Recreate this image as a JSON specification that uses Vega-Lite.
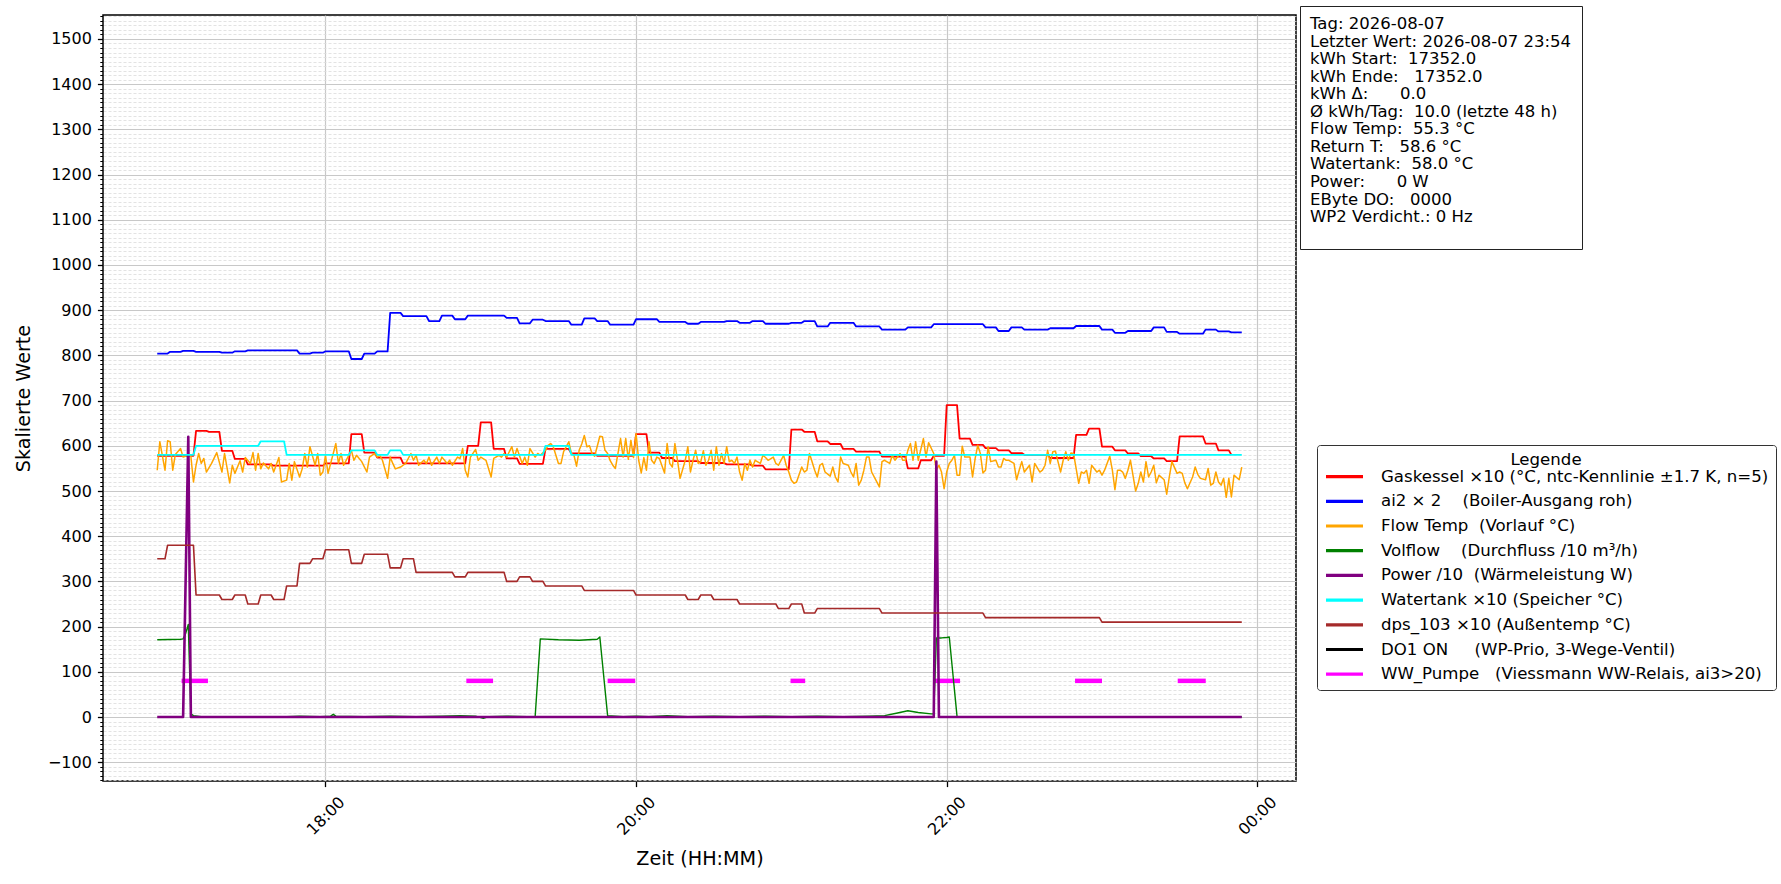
{
"$schema":"https://vega.github.io/schema/vega-lite/v6.json",
"autosize":{"type":"none"},
"padding":{"left":103,"top":15,"right":485,"bottom":103},
"width":1193,"height":766,
"background":"white",
"config":{"font":"DejaVu Sans","view":{"stroke":"black","strokeWidth":1.5},"axis":{"labelFont":"DejaVu Sans","titleFont":"DejaVu Sans","labelColor":"black","titleColor":"black","tickColor":"black"}},
"datasets":{
"gas":[
{"t":"2026-08-07T16:55","v":578},{"t":"2026-08-07T17:09","v":578},{"t":"2026-08-07T17:10","v":633},{"t":"2026-08-07T17:14","v":633},{"t":"2026-08-07T17:15","v":631},{"t":"2026-08-07T17:19","v":631},{"t":"2026-08-07T17:20","v":589},{"t":"2026-08-07T17:24","v":589},{"t":"2026-08-07T17:25","v":571},{"t":"2026-08-07T17:29","v":571},{"t":"2026-08-07T17:30","v":559},{"t":"2026-08-07T17:39","v":559},{"t":"2026-08-07T17:40","v":556},{"t":"2026-08-07T17:59","v":556},{"t":"2026-08-07T18:00","v":561},{"t":"2026-08-07T18:09","v":561},{"t":"2026-08-07T18:10","v":626},{"t":"2026-08-07T18:14","v":626},{"t":"2026-08-07T18:15","v":585},{"t":"2026-08-07T18:19","v":585},{"t":"2026-08-07T18:20","v":574},{"t":"2026-08-07T18:29","v":574},{"t":"2026-08-07T18:30","v":561},{"t":"2026-08-07T18:54","v":561},{"t":"2026-08-07T18:55","v":600},{"t":"2026-08-07T18:59","v":600},{"t":"2026-08-07T19:00","v":652},{"t":"2026-08-07T19:04","v":652},{"t":"2026-08-07T19:05","v":593},{"t":"2026-08-07T19:09","v":593},{"t":"2026-08-07T19:10","v":572},{"t":"2026-08-07T19:14","v":572},{"t":"2026-08-07T19:15","v":560},{"t":"2026-08-07T19:24","v":560},{"t":"2026-08-07T19:25","v":593},{"t":"2026-08-07T19:34","v":593},{"t":"2026-08-07T19:35","v":583},{"t":"2026-08-07T19:44","v":583},{"t":"2026-08-07T19:45","v":578},{"t":"2026-08-07T19:59","v":578},{"t":"2026-08-07T20:00","v":626},{"t":"2026-08-07T20:04","v":626},{"t":"2026-08-07T20:05","v":585},{"t":"2026-08-07T20:09","v":585},{"t":"2026-08-07T20:10","v":573},{"t":"2026-08-07T20:14","v":573},{"t":"2026-08-07T20:15","v":566},{"t":"2026-08-07T20:24","v":566},{"t":"2026-08-07T20:25","v":562},{"t":"2026-08-07T20:34","v":562},{"t":"2026-08-07T20:35","v":559},{"t":"2026-08-07T20:44","v":559},{"t":"2026-08-07T20:45","v":556},{"t":"2026-08-07T20:49","v":556},{"t":"2026-08-07T20:50","v":548},{"t":"2026-08-07T20:59","v":548},{"t":"2026-08-07T21:00","v":636},{"t":"2026-08-07T21:04","v":636},{"t":"2026-08-07T21:05","v":631},{"t":"2026-08-07T21:09","v":631},{"t":"2026-08-07T21:10","v":610},{"t":"2026-08-07T21:14","v":610},{"t":"2026-08-07T21:15","v":604},{"t":"2026-08-07T21:19","v":604},{"t":"2026-08-07T21:20","v":593},{"t":"2026-08-07T21:24","v":593},{"t":"2026-08-07T21:25","v":587},{"t":"2026-08-07T21:34","v":587},{"t":"2026-08-07T21:35","v":576},{"t":"2026-08-07T21:44","v":576},{"t":"2026-08-07T21:45","v":550},{"t":"2026-08-07T21:49","v":550},{"t":"2026-08-07T21:50","v":568},{"t":"2026-08-07T21:54","v":568},{"t":"2026-08-07T21:55","v":578},{"t":"2026-08-07T21:59","v":578},{"t":"2026-08-07T22:00","v":690},{"t":"2026-08-07T22:04","v":690},{"t":"2026-08-07T22:05","v":616},{"t":"2026-08-07T22:09","v":616},{"t":"2026-08-07T22:10","v":602},{"t":"2026-08-07T22:14","v":602},{"t":"2026-08-07T22:15","v":595},{"t":"2026-08-07T22:19","v":595},{"t":"2026-08-07T22:20","v":590},{"t":"2026-08-07T22:24","v":590},{"t":"2026-08-07T22:25","v":584},{"t":"2026-08-07T22:29","v":584},{"t":"2026-08-07T22:30","v":580},{"t":"2026-08-07T22:39","v":580},{"t":"2026-08-07T22:40","v":573},{"t":"2026-08-07T22:49","v":573},{"t":"2026-08-07T22:50","v":624},{"t":"2026-08-07T22:54","v":624},{"t":"2026-08-07T22:55","v":638},{"t":"2026-08-07T22:59","v":638},{"t":"2026-08-07T23:00","v":598},{"t":"2026-08-07T23:04","v":598},{"t":"2026-08-07T23:05","v":590},{"t":"2026-08-07T23:09","v":590},{"t":"2026-08-07T23:10","v":583},{"t":"2026-08-07T23:14","v":583},{"t":"2026-08-07T23:15","v":577},{"t":"2026-08-07T23:19","v":577},{"t":"2026-08-07T23:20","v":572},{"t":"2026-08-07T23:24","v":572},{"t":"2026-08-07T23:25","v":566},{"t":"2026-08-07T23:29","v":566},{"t":"2026-08-07T23:30","v":621},{"t":"2026-08-07T23:39","v":621},{"t":"2026-08-07T23:40","v":605},{"t":"2026-08-07T23:44","v":605},{"t":"2026-08-07T23:45","v":590},{"t":"2026-08-07T23:49","v":590},{"t":"2026-08-07T23:50","v":580}
],
"ai2":[
{"t":"2026-08-07T16:55","v":804},{"t":"2026-08-07T16:59","v":804},{"t":"2026-08-07T17:00","v":808},{"t":"2026-08-07T17:04","v":808},{"t":"2026-08-07T17:05","v":810},{"t":"2026-08-07T17:09","v":810},{"t":"2026-08-07T17:10","v":808},{"t":"2026-08-07T17:19","v":808},{"t":"2026-08-07T17:20","v":806},{"t":"2026-08-07T17:24","v":806},{"t":"2026-08-07T17:25","v":809},{"t":"2026-08-07T17:29","v":809},{"t":"2026-08-07T17:30","v":811},{"t":"2026-08-07T17:49","v":811},{"t":"2026-08-07T17:50","v":804},{"t":"2026-08-07T17:54","v":804},{"t":"2026-08-07T17:55","v":806},{"t":"2026-08-07T17:59","v":806},{"t":"2026-08-07T18:00","v":809},{"t":"2026-08-07T18:09","v":809},{"t":"2026-08-07T18:10","v":792},{"t":"2026-08-07T18:14","v":792},{"t":"2026-08-07T18:15","v":804},{"t":"2026-08-07T18:19","v":804},{"t":"2026-08-07T18:20","v":809},{"t":"2026-08-07T18:24","v":809},{"t":"2026-08-07T18:25","v":894},{"t":"2026-08-07T18:29","v":894},{"t":"2026-08-07T18:30","v":887},{"t":"2026-08-07T18:39","v":887},{"t":"2026-08-07T18:40","v":876},{"t":"2026-08-07T18:44","v":876},{"t":"2026-08-07T18:45","v":888},{"t":"2026-08-07T18:49","v":888},{"t":"2026-08-07T18:50","v":880},{"t":"2026-08-07T18:54","v":880},{"t":"2026-08-07T18:55","v":888},{"t":"2026-08-07T19:09","v":888},{"t":"2026-08-07T19:10","v":883},{"t":"2026-08-07T19:14","v":883},{"t":"2026-08-07T19:15","v":871},{"t":"2026-08-07T19:19","v":871},{"t":"2026-08-07T19:20","v":879},{"t":"2026-08-07T19:24","v":879},{"t":"2026-08-07T19:25","v":876},{"t":"2026-08-07T19:34","v":876},{"t":"2026-08-07T19:35","v":868},{"t":"2026-08-07T19:39","v":868},{"t":"2026-08-07T19:40","v":882},{"t":"2026-08-07T19:44","v":882},{"t":"2026-08-07T19:45","v":876},{"t":"2026-08-07T19:49","v":876},{"t":"2026-08-07T19:50","v":868},{"t":"2026-08-07T19:59","v":868},{"t":"2026-08-07T20:00","v":880},{"t":"2026-08-07T20:08","v":880},{"t":"2026-08-07T20:09","v":874},{"t":"2026-08-07T20:19","v":874},{"t":"2026-08-07T20:20","v":870},{"t":"2026-08-07T20:24","v":870},{"t":"2026-08-07T20:25","v":874},{"t":"2026-08-07T20:34","v":874},{"t":"2026-08-07T20:35","v":876},{"t":"2026-08-07T20:39","v":876},{"t":"2026-08-07T20:40","v":872},{"t":"2026-08-07T20:44","v":872},{"t":"2026-08-07T20:45","v":876},{"t":"2026-08-07T20:49","v":876},{"t":"2026-08-07T20:50","v":870},{"t":"2026-08-07T20:59","v":870},{"t":"2026-08-07T21:00","v":872},{"t":"2026-08-07T21:04","v":872},{"t":"2026-08-07T21:05","v":876},{"t":"2026-08-07T21:09","v":876},{"t":"2026-08-07T21:10","v":864},{"t":"2026-08-07T21:14","v":864},{"t":"2026-08-07T21:15","v":872},{"t":"2026-08-07T21:24","v":872},{"t":"2026-08-07T21:25","v":864},{"t":"2026-08-07T21:34","v":864},{"t":"2026-08-07T21:35","v":857},{"t":"2026-08-07T21:44","v":857},{"t":"2026-08-07T21:45","v":862},{"t":"2026-08-07T21:54","v":862},{"t":"2026-08-07T21:55","v":869},{"t":"2026-08-07T22:14","v":869},{"t":"2026-08-07T22:15","v":862},{"t":"2026-08-07T22:19","v":862},{"t":"2026-08-07T22:20","v":854},{"t":"2026-08-07T22:24","v":854},{"t":"2026-08-07T22:25","v":862},{"t":"2026-08-07T22:29","v":862},{"t":"2026-08-07T22:30","v":857},{"t":"2026-08-07T22:39","v":857},{"t":"2026-08-07T22:40","v":860},{"t":"2026-08-07T22:49","v":860},{"t":"2026-08-07T22:50","v":865},{"t":"2026-08-07T22:59","v":865},{"t":"2026-08-07T23:00","v":857},{"t":"2026-08-07T23:04","v":857},{"t":"2026-08-07T23:05","v":850},{"t":"2026-08-07T23:09","v":850},{"t":"2026-08-07T23:10","v":854},{"t":"2026-08-07T23:19","v":854},{"t":"2026-08-07T23:20","v":862},{"t":"2026-08-07T23:24","v":862},{"t":"2026-08-07T23:25","v":852},{"t":"2026-08-07T23:29","v":852},{"t":"2026-08-07T23:30","v":848},{"t":"2026-08-07T23:39","v":848},{"t":"2026-08-07T23:40","v":857},{"t":"2026-08-07T23:44","v":857},{"t":"2026-08-07T23:45","v":853},{"t":"2026-08-07T23:49","v":853},{"t":"2026-08-07T23:50","v":851},{"t":"2026-08-07T23:54","v":851}
],
"flow":[
{"t":"2026-08-07T16:55","v":546},{"t":"2026-08-07T16:56","v":609},{"t":"2026-08-07T16:58","v":546},{"t":"2026-08-07T16:59","v":611},{"t":"2026-08-07T17:00","v":609},{"t":"2026-08-07T17:01","v":546},{"t":"2026-08-07T17:02","v":581},{"t":"2026-08-07T17:04","v":594},{"t":"2026-08-07T17:05","v":575},{"t":"2026-08-07T17:07","v":579},{"t":"2026-08-07T17:08","v":577},{"t":"2026-08-07T17:09","v":520},{"t":"2026-08-07T17:10","v":557},{"t":"2026-08-07T17:11","v":583},{"t":"2026-08-07T17:12","v":561},{"t":"2026-08-07T17:13","v":572},{"t":"2026-08-07T17:14","v":542},{"t":"2026-08-07T17:16","v":561},{"t":"2026-08-07T17:18","v":585},{"t":"2026-08-07T17:20","v":542},{"t":"2026-08-07T17:21","v":583},{"t":"2026-08-07T17:23","v":518},{"t":"2026-08-07T17:24","v":557},{"t":"2026-08-07T17:25","v":539},{"t":"2026-08-07T17:27","v":567},{"t":"2026-08-07T17:28","v":542},{"t":"2026-08-07T17:29","v":574},{"t":"2026-08-07T17:31","v":561},{"t":"2026-08-07T17:32","v":585},{"t":"2026-08-07T17:33","v":546},{"t":"2026-08-07T17:34","v":583},{"t":"2026-08-07T17:35","v":549},{"t":"2026-08-07T17:36","v":562},{"t":"2026-08-07T17:38","v":549},{"t":"2026-08-07T17:39","v":561},{"t":"2026-08-07T17:40","v":542},{"t":"2026-08-07T17:42","v":574},{"t":"2026-08-07T17:43","v":520},{"t":"2026-08-07T17:45","v":524},{"t":"2026-08-07T17:46","v":561},{"t":"2026-08-07T17:47","v":524},{"t":"2026-08-07T17:48","v":565},{"t":"2026-08-07T17:50","v":531},{"t":"2026-08-07T17:51","v":549},{"t":"2026-08-07T17:52","v":583},{"t":"2026-08-07T17:53","v":553},{"t":"2026-08-07T17:54","v":598},{"t":"2026-08-07T17:56","v":557},{"t":"2026-08-07T17:57","v":583},{"t":"2026-08-07T17:58","v":535},{"t":"2026-08-07T17:59","v":542},{"t":"2026-08-07T18:00","v":579},{"t":"2026-08-07T18:01","v":539},{"t":"2026-08-07T18:03","v":583},{"t":"2026-08-07T18:04","v":605},{"t":"2026-08-07T18:05","v":561},{"t":"2026-08-07T18:06","v":583},{"t":"2026-08-07T18:07","v":557},{"t":"2026-08-07T18:09","v":579},{"t":"2026-08-07T18:10","v":590},{"t":"2026-08-07T18:11","v":568},{"t":"2026-08-07T18:12","v":579},{"t":"2026-08-07T18:14","v":565},{"t":"2026-08-07T18:16","v":542},{"t":"2026-08-07T18:17","v":575},{"t":"2026-08-07T18:19","v":583},{"t":"2026-08-07T18:20","v":575},{"t":"2026-08-07T18:21","v":579},{"t":"2026-08-07T18:22","v":568},{"t":"2026-08-07T18:24","v":528},{"t":"2026-08-07T18:25","v":575},{"t":"2026-08-07T18:26","v":561},{"t":"2026-08-07T18:27","v":549},{"t":"2026-08-07T18:29","v":553},{"t":"2026-08-07T18:30","v":557},{"t":"2026-08-07T18:31","v":561},{"t":"2026-08-07T18:33","v":583},{"t":"2026-08-07T18:34","v":568},{"t":"2026-08-07T18:35","v":579},{"t":"2026-08-07T18:36","v":557},{"t":"2026-08-07T18:38","v":568},{"t":"2026-08-07T18:39","v":561},{"t":"2026-08-07T18:40","v":575},{"t":"2026-08-07T18:41","v":557},{"t":"2026-08-07T18:43","v":575},{"t":"2026-08-07T18:44","v":561},{"t":"2026-08-07T18:45","v":575},{"t":"2026-08-07T18:47","v":561},{"t":"2026-08-07T18:48","v":568},{"t":"2026-08-07T18:49","v":557},{"t":"2026-08-07T18:51","v":575},{"t":"2026-08-07T18:52","v":572},{"t":"2026-08-07T18:53","v":594},{"t":"2026-08-07T18:54","v":546},{"t":"2026-08-07T18:55","v":531},{"t":"2026-08-07T18:56","v":575},{"t":"2026-08-07T18:58","v":592},{"t":"2026-08-07T18:59","v":568},{"t":"2026-08-07T19:00","v":575},{"t":"2026-08-07T19:02","v":568},{"t":"2026-08-07T19:04","v":531},{"t":"2026-08-07T19:05","v":572},{"t":"2026-08-07T19:07","v":579},{"t":"2026-08-07T19:08","v":575},{"t":"2026-08-07T19:09","v":583},{"t":"2026-08-07T19:10","v":575},{"t":"2026-08-07T19:12","v":598},{"t":"2026-08-07T19:13","v":575},{"t":"2026-08-07T19:14","v":594},{"t":"2026-08-07T19:16","v":561},{"t":"2026-08-07T19:17","v":575},{"t":"2026-08-07T19:18","v":557},{"t":"2026-08-07T19:19","v":594},{"t":"2026-08-07T19:21","v":575},{"t":"2026-08-07T19:22","v":583},{"t":"2026-08-07T19:23","v":579},{"t":"2026-08-07T19:25","v":590},{"t":"2026-08-07T19:26","v":601},{"t":"2026-08-07T19:27","v":605},{"t":"2026-08-07T19:28","v":598},{"t":"2026-08-07T19:30","v":561},{"t":"2026-08-07T19:31","v":561},{"t":"2026-08-07T19:32","v":587},{"t":"2026-08-07T19:34","v":609},{"t":"2026-08-07T19:35","v":583},{"t":"2026-08-07T19:36","v":579},{"t":"2026-08-07T19:37","v":555},{"t":"2026-08-07T19:38","v":590},{"t":"2026-08-07T19:39","v":604},{"t":"2026-08-07T19:40","v":623},{"t":"2026-08-07T19:41","v":598},{"t":"2026-08-07T19:42","v":600},{"t":"2026-08-07T19:43","v":583},{"t":"2026-08-07T19:44","v":577},{"t":"2026-08-07T19:46","v":621},{"t":"2026-08-07T19:47","v":620},{"t":"2026-08-07T19:48","v":590},{"t":"2026-08-07T19:49","v":583},{"t":"2026-08-07T19:50","v":567},{"t":"2026-08-07T19:51","v":557},{"t":"2026-08-07T19:52","v":550},{"t":"2026-08-07T19:53","v":583},{"t":"2026-08-07T19:54","v":616},{"t":"2026-08-07T19:55","v":575},{"t":"2026-08-07T19:56","v":616},{"t":"2026-08-07T19:57","v":570},{"t":"2026-08-07T19:58","v":612},{"t":"2026-08-07T19:59","v":574},{"t":"2026-08-07T20:00","v":627},{"t":"2026-08-07T20:01","v":568},{"t":"2026-08-07T20:02","v":540},{"t":"2026-08-07T20:03","v":574},{"t":"2026-08-07T20:04","v":546},{"t":"2026-08-07T20:05","v":609},{"t":"2026-08-07T20:06","v":568},{"t":"2026-08-07T20:07","v":561},{"t":"2026-08-07T20:08","v":575},{"t":"2026-08-07T20:09","v":572},{"t":"2026-08-07T20:11","v":540},{"t":"2026-08-07T20:12","v":605},{"t":"2026-08-07T20:13","v":561},{"t":"2026-08-07T20:14","v":553},{"t":"2026-08-07T20:15","v":605},{"t":"2026-08-07T20:16","v":568},{"t":"2026-08-07T20:17","v":528},{"t":"2026-08-07T20:19","v":568},{"t":"2026-08-07T20:20","v":598},{"t":"2026-08-07T20:21","v":542},{"t":"2026-08-07T20:22","v":568},{"t":"2026-08-07T20:23","v":590},{"t":"2026-08-07T20:24","v":561},{"t":"2026-08-07T20:25","v":565},{"t":"2026-08-07T20:26","v":589},{"t":"2026-08-07T20:27","v":557},{"t":"2026-08-07T20:28","v":568},{"t":"2026-08-07T20:29","v":590},{"t":"2026-08-07T20:30","v":546},{"t":"2026-08-07T20:31","v":598},{"t":"2026-08-07T20:32","v":557},{"t":"2026-08-07T20:33","v":583},{"t":"2026-08-07T20:34","v":561},{"t":"2026-08-07T20:35","v":598},{"t":"2026-08-07T20:36","v":565},{"t":"2026-08-07T20:37","v":568},{"t":"2026-08-07T20:38","v":561},{"t":"2026-08-07T20:39","v":575},{"t":"2026-08-07T20:40","v":542},{"t":"2026-08-07T20:41","v":524},{"t":"2026-08-07T20:42","v":561},{"t":"2026-08-07T20:43","v":546},{"t":"2026-08-07T20:44","v":568},{"t":"2026-08-07T20:45","v":553},{"t":"2026-08-07T20:46","v":568},{"t":"2026-08-07T20:48","v":561},{"t":"2026-08-07T20:49","v":579},{"t":"2026-08-07T20:50","v":574},{"t":"2026-08-07T20:51","v":568},{"t":"2026-08-07T20:53","v":575},{"t":"2026-08-07T20:54","v":561},{"t":"2026-08-07T20:55","v":557},{"t":"2026-08-07T20:57","v":579},{"t":"2026-08-07T20:58","v":557},{"t":"2026-08-07T20:59","v":542},{"t":"2026-08-07T21:00","v":524},{"t":"2026-08-07T21:01","v":517},{"t":"2026-08-07T21:02","v":520},{"t":"2026-08-07T21:04","v":553},{"t":"2026-08-07T21:05","v":542},{"t":"2026-08-07T21:06","v":546},{"t":"2026-08-07T21:07","v":583},{"t":"2026-08-07T21:09","v":546},{"t":"2026-08-07T21:10","v":531},{"t":"2026-08-07T21:11","v":557},{"t":"2026-08-07T21:12","v":561},{"t":"2026-08-07T21:13","v":542},{"t":"2026-08-07T21:15","v":533},{"t":"2026-08-07T21:16","v":553},{"t":"2026-08-07T21:17","v":531},{"t":"2026-08-07T21:18","v":520},{"t":"2026-08-07T21:19","v":575},{"t":"2026-08-07T21:20","v":561},{"t":"2026-08-07T21:22","v":557},{"t":"2026-08-07T21:23","v":542},{"t":"2026-08-07T21:24","v":531},{"t":"2026-08-07T21:25","v":561},{"t":"2026-08-07T21:26","v":513},{"t":"2026-08-07T21:27","v":524},{"t":"2026-08-07T21:28","v":546},{"t":"2026-08-07T21:29","v":575},{"t":"2026-08-07T21:30","v":575},{"t":"2026-08-07T21:31","v":542},{"t":"2026-08-07T21:33","v":520},{"t":"2026-08-07T21:34","v":509},{"t":"2026-08-07T21:35","v":565},{"t":"2026-08-07T21:36","v":568},{"t":"2026-08-07T21:38","v":561},{"t":"2026-08-07T21:39","v":579},{"t":"2026-08-07T21:40","v":568},{"t":"2026-08-07T21:42","v":583},{"t":"2026-08-07T21:43","v":568},{"t":"2026-08-07T21:44","v":568},{"t":"2026-08-07T21:45","v":590},{"t":"2026-08-07T21:46","v":605},{"t":"2026-08-07T21:47","v":568},{"t":"2026-08-07T21:48","v":609},{"t":"2026-08-07T21:49","v":568},{"t":"2026-08-07T21:51","v":616},{"t":"2026-08-07T21:52","v":575},{"t":"2026-08-07T21:53","v":607},{"t":"2026-08-07T21:55","v":583},{"t":"2026-08-07T21:56","v":546},{"t":"2026-08-07T21:57","v":557},{"t":"2026-08-07T21:58","v":542},{"t":"2026-08-07T21:59","v":505},{"t":"2026-08-07T22:00","v":542},{"t":"2026-08-07T22:01","v":561},{"t":"2026-08-07T22:02","v":568},{"t":"2026-08-07T22:03","v":579},{"t":"2026-08-07T22:04","v":535},{"t":"2026-08-07T22:05","v":535},{"t":"2026-08-07T22:06","v":599},{"t":"2026-08-07T22:07","v":575},{"t":"2026-08-07T22:09","v":575},{"t":"2026-08-07T22:10","v":531},{"t":"2026-08-07T22:11","v":572},{"t":"2026-08-07T22:12","v":601},{"t":"2026-08-07T22:13","v":583},{"t":"2026-08-07T22:14","v":540},{"t":"2026-08-07T22:15","v":546},{"t":"2026-08-07T22:16","v":598},{"t":"2026-08-07T22:17","v":565},{"t":"2026-08-07T22:19","v":568},{"t":"2026-08-07T22:20","v":553},{"t":"2026-08-07T22:21","v":553},{"t":"2026-08-07T22:22","v":572},{"t":"2026-08-07T22:23","v":568},{"t":"2026-08-07T22:24","v":568},{"t":"2026-08-07T22:26","v":561},{"t":"2026-08-07T22:27","v":525},{"t":"2026-08-07T22:28","v":546},{"t":"2026-08-07T22:29","v":565},{"t":"2026-08-07T22:30","v":542},{"t":"2026-08-07T22:32","v":557},{"t":"2026-08-07T22:33","v":520},{"t":"2026-08-07T22:34","v":561},{"t":"2026-08-07T22:36","v":542},{"t":"2026-08-07T22:37","v":546},{"t":"2026-08-07T22:38","v":557},{"t":"2026-08-07T22:39","v":590},{"t":"2026-08-07T22:40","v":561},{"t":"2026-08-07T22:41","v":587},{"t":"2026-08-07T22:42","v":588},{"t":"2026-08-07T22:43","v":565},{"t":"2026-08-07T22:44","v":542},{"t":"2026-08-07T22:45","v":568},{"t":"2026-08-07T22:46","v":587},{"t":"2026-08-07T22:47","v":568},{"t":"2026-08-07T22:48","v":584},{"t":"2026-08-07T22:49","v":583},{"t":"2026-08-07T22:51","v":517},{"t":"2026-08-07T22:52","v":542},{"t":"2026-08-07T22:53","v":539},{"t":"2026-08-07T22:54","v":546},{"t":"2026-08-07T22:55","v":517},{"t":"2026-08-07T22:56","v":557},{"t":"2026-08-07T22:58","v":542},{"t":"2026-08-07T22:59","v":546},{"t":"2026-08-07T23:00","v":535},{"t":"2026-08-07T23:01","v":546},{"t":"2026-08-07T23:03","v":577},{"t":"2026-08-07T23:04","v":546},{"t":"2026-08-07T23:05","v":503},{"t":"2026-08-07T23:06","v":546},{"t":"2026-08-07T23:07","v":546},{"t":"2026-08-07T23:08","v":542},{"t":"2026-08-07T23:09","v":528},{"t":"2026-08-07T23:10","v":546},{"t":"2026-08-07T23:11","v":568},{"t":"2026-08-07T23:13","v":500},{"t":"2026-08-07T23:14","v":517},{"t":"2026-08-07T23:15","v":542},{"t":"2026-08-07T23:16","v":520},{"t":"2026-08-07T23:17","v":565},{"t":"2026-08-07T23:18","v":531},{"t":"2026-08-07T23:19","v":542},{"t":"2026-08-07T23:20","v":557},{"t":"2026-08-07T23:21","v":518},{"t":"2026-08-07T23:22","v":535},{"t":"2026-08-07T23:24","v":525},{"t":"2026-08-07T23:25","v":493},{"t":"2026-08-07T23:26","v":531},{"t":"2026-08-07T23:27","v":565},{"t":"2026-08-07T23:29","v":539},{"t":"2026-08-07T23:30","v":542},{"t":"2026-08-07T23:31","v":539},{"t":"2026-08-07T23:32","v":518},{"t":"2026-08-07T23:33","v":505},{"t":"2026-08-07T23:35","v":531},{"t":"2026-08-07T23:36","v":553},{"t":"2026-08-07T23:37","v":537},{"t":"2026-08-07T23:38","v":528},{"t":"2026-08-07T23:40","v":525},{"t":"2026-08-07T23:41","v":550},{"t":"2026-08-07T23:42","v":513},{"t":"2026-08-07T23:43","v":517},{"t":"2026-08-07T23:44","v":542},{"t":"2026-08-07T23:45","v":520},{"t":"2026-08-07T23:46","v":513},{"t":"2026-08-07T23:47","v":528},{"t":"2026-08-07T23:48","v":486},{"t":"2026-08-07T23:49","v":528},{"t":"2026-08-07T23:50","v":487},{"t":"2026-08-07T23:51","v":535},{"t":"2026-08-07T23:52","v":530},{"t":"2026-08-07T23:53","v":525},{"t":"2026-08-07T23:54","v":553}
],
"vol":[
{"t":"2026-08-07T16:55","v":171},{"t":"2026-08-07T17:04","v":172},{"t":"2026-08-07T17:05","v":173},{"t":"2026-08-07T17:06","v":185},{"t":"2026-08-07T17:07","v":205},{"t":"2026-08-07T17:08","v":7},{"t":"2026-08-07T17:09","v":3},{"t":"2026-08-07T17:12","v":1},{"t":"2026-08-07T17:30","v":1},{"t":"2026-08-07T17:45","v":1},{"t":"2026-08-07T17:50","v":2},{"t":"2026-08-07T17:58","v":1},{"t":"2026-08-07T18:02","v":2},{"t":"2026-08-07T18:03","v":6},{"t":"2026-08-07T18:04","v":2},{"t":"2026-08-07T18:15","v":1},{"t":"2026-08-07T18:25","v":2},{"t":"2026-08-07T18:35","v":1},{"t":"2026-08-07T18:45","v":2},{"t":"2026-08-07T18:52","v":3},{"t":"2026-08-07T18:58","v":2},{"t":"2026-08-07T19:01","v":-3},{"t":"2026-08-07T19:03","v":1},{"t":"2026-08-07T19:10","v":2},{"t":"2026-08-07T19:18","v":1},{"t":"2026-08-07T19:21","v":0},{"t":"2026-08-07T19:23","v":173},{"t":"2026-08-07T19:30","v":171},{"t":"2026-08-07T19:38","v":170},{"t":"2026-08-07T19:45","v":172},{"t":"2026-08-07T19:46","v":177},{"t":"2026-08-07T19:49","v":3},{"t":"2026-08-07T19:55","v":1},{"t":"2026-08-07T20:00","v":2},{"t":"2026-08-07T20:05","v":1},{"t":"2026-08-07T20:12","v":3},{"t":"2026-08-07T20:20","v":1},{"t":"2026-08-07T20:30","v":2},{"t":"2026-08-07T20:40","v":1},{"t":"2026-08-07T20:50","v":2},{"t":"2026-08-07T21:00","v":1},{"t":"2026-08-07T21:10","v":2},{"t":"2026-08-07T21:20","v":1},{"t":"2026-08-07T21:30","v":2},{"t":"2026-08-07T21:36","v":3},{"t":"2026-08-07T21:41","v":9},{"t":"2026-08-07T21:45","v":14},{"t":"2026-08-07T21:49","v":10},{"t":"2026-08-07T21:54","v":7},{"t":"2026-08-07T21:55","v":7},{"t":"2026-08-07T21:56","v":175},{"t":"2026-08-07T21:58","v":175},{"t":"2026-08-07T22:00","v":176},{"t":"2026-08-07T22:01","v":177},{"t":"2026-08-07T22:04","v":1},{"t":"2026-08-07T22:10","v":0},{"t":"2026-08-07T23:54","v":0}
],
"power":[
{"t":"2026-08-07T16:55","v":0},{"t":"2026-08-07T17:05","v":0},{"t":"2026-08-07T17:07","v":620},{"t":"2026-08-07T17:08","v":0},{"t":"2026-08-07T21:55","v":0},{"t":"2026-08-07T21:56","v":565},{"t":"2026-08-07T21:57","v":0},{"t":"2026-08-07T23:54","v":0}
],
"tank":[
{"t":"2026-08-07T16:55","v":580},{"t":"2026-08-07T17:09","v":580},{"t":"2026-08-07T17:10","v":600},{"t":"2026-08-07T17:34","v":600},{"t":"2026-08-07T17:35","v":610},{"t":"2026-08-07T17:44","v":610},{"t":"2026-08-07T17:45","v":580},{"t":"2026-08-07T18:09","v":580},{"t":"2026-08-07T18:10","v":590},{"t":"2026-08-07T18:19","v":590},{"t":"2026-08-07T18:20","v":580},{"t":"2026-08-07T18:24","v":580},{"t":"2026-08-07T18:25","v":590},{"t":"2026-08-07T18:29","v":590},{"t":"2026-08-07T18:30","v":580},{"t":"2026-08-07T19:24","v":580},{"t":"2026-08-07T19:25","v":600},{"t":"2026-08-07T19:34","v":600},{"t":"2026-08-07T19:35","v":580},{"t":"2026-08-07T23:54","v":580}
],
"dps":[
{"t":"2026-08-07T16:55","v":350},{"t":"2026-08-07T16:58","v":350},{"t":"2026-08-07T16:59","v":380},{"t":"2026-08-07T17:09","v":380},{"t":"2026-08-07T17:10","v":270},{"t":"2026-08-07T17:19","v":270},{"t":"2026-08-07T17:20","v":260},{"t":"2026-08-07T17:24","v":260},{"t":"2026-08-07T17:25","v":270},{"t":"2026-08-07T17:29","v":270},{"t":"2026-08-07T17:30","v":250},{"t":"2026-08-07T17:34","v":250},{"t":"2026-08-07T17:35","v":270},{"t":"2026-08-07T17:39","v":270},{"t":"2026-08-07T17:40","v":260},{"t":"2026-08-07T17:44","v":260},{"t":"2026-08-07T17:45","v":290},{"t":"2026-08-07T17:49","v":290},{"t":"2026-08-07T17:50","v":340},{"t":"2026-08-07T17:54","v":340},{"t":"2026-08-07T17:55","v":350},{"t":"2026-08-07T17:59","v":350},{"t":"2026-08-07T18:00","v":370},{"t":"2026-08-07T18:09","v":370},{"t":"2026-08-07T18:10","v":340},{"t":"2026-08-07T18:14","v":340},{"t":"2026-08-07T18:15","v":360},{"t":"2026-08-07T18:24","v":360},{"t":"2026-08-07T18:25","v":330},{"t":"2026-08-07T18:29","v":330},{"t":"2026-08-07T18:30","v":350},{"t":"2026-08-07T18:34","v":350},{"t":"2026-08-07T18:35","v":320},{"t":"2026-08-07T18:49","v":320},{"t":"2026-08-07T18:50","v":310},{"t":"2026-08-07T18:54","v":310},{"t":"2026-08-07T18:55","v":320},{"t":"2026-08-07T19:09","v":320},{"t":"2026-08-07T19:10","v":300},{"t":"2026-08-07T19:14","v":300},{"t":"2026-08-07T19:15","v":310},{"t":"2026-08-07T19:19","v":310},{"t":"2026-08-07T19:20","v":300},{"t":"2026-08-07T19:24","v":300},{"t":"2026-08-07T19:25","v":290},{"t":"2026-08-07T19:39","v":290},{"t":"2026-08-07T19:40","v":280},{"t":"2026-08-07T19:59","v":280},{"t":"2026-08-07T20:00","v":270},{"t":"2026-08-07T20:19","v":270},{"t":"2026-08-07T20:20","v":260},{"t":"2026-08-07T20:24","v":260},{"t":"2026-08-07T20:25","v":270},{"t":"2026-08-07T20:29","v":270},{"t":"2026-08-07T20:30","v":260},{"t":"2026-08-07T20:39","v":260},{"t":"2026-08-07T20:40","v":250},{"t":"2026-08-07T20:54","v":250},{"t":"2026-08-07T20:55","v":240},{"t":"2026-08-07T20:59","v":240},{"t":"2026-08-07T21:00","v":250},{"t":"2026-08-07T21:04","v":250},{"t":"2026-08-07T21:05","v":230},{"t":"2026-08-07T21:09","v":230},{"t":"2026-08-07T21:10","v":240},{"t":"2026-08-07T21:34","v":240},{"t":"2026-08-07T21:35","v":230},{"t":"2026-08-07T22:14","v":230},{"t":"2026-08-07T22:15","v":220},{"t":"2026-08-07T22:59","v":220},{"t":"2026-08-07T23:00","v":210},{"t":"2026-08-07T23:54","v":210}
],
"ww":[
{"t":"2026-08-07T17:04:24","v":80,"seg":1},{"t":"2026-08-07T17:14:36","v":80,"seg":1},{"t":"2026-08-07T18:54:25","v":80,"seg":2},{"t":"2026-08-07T19:04:45","v":80,"seg":2},{"t":"2026-08-07T19:49:00","v":80,"seg":3},{"t":"2026-08-07T19:59:40","v":80,"seg":3},{"t":"2026-08-07T20:59:40","v":80,"seg":4},{"t":"2026-08-07T21:05:20","v":80,"seg":4},{"t":"2026-08-07T21:54:50","v":80,"seg":5},{"t":"2026-08-07T22:05:10","v":80,"seg":5},{"t":"2026-08-07T22:49:35","v":80,"seg":6},{"t":"2026-08-07T23:00:00","v":80,"seg":6},{"t":"2026-08-07T23:29:15","v":80,"seg":7},{"t":"2026-08-07T23:40:05","v":80,"seg":7}
]
},
"encoding":{
"x":{"field":"t","type":"temporal","scale":{"domain":[{"year":2026,"month":8,"date":7,"hours":16,"minutes":34,"seconds":3},{"year":2026,"month":8,"date":8,"hours":0,"minutes":14,"seconds":57}],"nice":false},
"axis":{"title":"Zeit (HH:MM)","format":"%H:%M","values":[{"year":2026,"month":8,"date":7,"hours":18},{"year":2026,"month":8,"date":7,"hours":20},{"year":2026,"month":8,"date":7,"hours":22},{"year":2026,"month":8,"date":8,"hours":0}],"labelAngle":-45,"labelAlign":"center","labelBaseline":"middle","labelPadding":29,"labelFontSize":16,"labelOverlap":false,"tickSize":5.6,"tickWidth":1.3,"domain":false,"grid":true,"gridColor":"#c8c8c8","gridWidth":1.2,"titleFontSize":19.2,"titleFontWeight":"normal","titleY":77,"titleBaseline":"middle"}},
"y":{"field":"v","type":"quantitative","scale":{"domain":[-141.5,1553],"nice":false,"zero":false},
"axis":{"title":"Skalierte Werte","values":[-140,-130,-120,-110,-100,-90,-80,-70,-60,-50,-40,-30,-20,-10,0,10,20,30,40,50,60,70,80,90,100,110,120,130,140,150,160,170,180,190,200,210,220,230,240,250,260,270,280,290,300,310,320,330,340,350,360,370,380,390,400,410,420,430,440,450,460,470,480,490,500,510,520,530,540,550,560,570,580,590,600,610,620,630,640,650,660,670,680,690,700,710,720,730,740,750,760,770,780,790,800,810,820,830,840,850,860,870,880,890,900,910,920,930,940,950,960,970,980,990,1000,1010,1020,1030,1040,1050,1060,1070,1080,1090,1100,1110,1120,1130,1140,1150,1160,1170,1180,1190,1200,1210,1220,1230,1240,1250,1260,1270,1280,1290,1300,1310,1320,1330,1340,1350,1360,1370,1380,1390,1400,1410,1420,1430,1440,1450,1460,1470,1480,1490,1500,1510,1520,1530,1540,1550],"format":"d","labelExpr":"datum.value % 100 == 0 ? datum.label : ''","labelFontSize":16,"labelPadding":6,"labelOverlap":false,
"tickSize":{"condition":{"test":"datum.value % 100 == 0","value":5.6},"value":3.2},
"tickWidth":{"condition":{"test":"datum.value % 100 == 0","value":1.3},"value":1},
"domain":false,"grid":true,
"gridColor":{"condition":{"test":"datum.value % 100 == 0","value":"#c8c8c8"},"value":"#dcdcdc"},
"gridDash":{"condition":{"test":"datum.value % 100 == 0","value":[]},"value":[3,2]},
"gridWidth":{"condition":{"test":"datum.value % 100 == 0","value":1.2},"value":0.8},
"titleFontSize":19.2,"titleFontWeight":"normal","titleX":-80,"titleY":383,"titleAngle":270,"titleAlign":"center","titleBaseline":"middle"}}
},
"layer":[
{
"data":{"name":"ww"},
"mark":{"type":"line","strokeWidth":4.5,"strokeCap":"butt"},
"encoding":{
"detail":{"field":"seg","type":"nominal"},
"color":{"datum":"WW_Pumpe\u00a0\u00a0\u00a0(Viessmann WW-Relais, ai3>20)","type":"nominal",
"scale":{"domain":["Gaskessel ×10 (°C, ntc-Kennlinie ±1.7 K, n=5)","ai2 × 2\u00a0\u00a0\u00a0\u00a0(Boiler-Ausgang roh)","Flow Temp\u00a0\u00a0(Vorlauf °C)","Volflow\u00a0\u00a0\u00a0\u00a0(Durchfluss /10 m³/h)","Power /10\u00a0\u00a0(Wärmeleistung W)","Watertank ×10 (Speicher °C)","dps_103 ×10 (Außentemp °C)","DO1 ON\u00a0\u00a0\u00a0\u00a0\u00a0(WP-Prio, 3-Wege-Ventil)","WW_Pumpe\u00a0\u00a0\u00a0(Viessmann WW-Relais, ai3>20)"],
"range":["#ff0000","#0000ff","#ffa500","#008000","#800080","#00ffff","#a52a2a","#000000","#ff00ff"]},
"legend":{"title":"Legende","orient":"none","legendX":1214,"legendY":430,"titleAnchor":"middle","titleFontSize":16.6,"titleFontWeight":"normal","titleColor":"black","titlePadding":0,"labelFontSize":16.6,"labelColor":"black","labelLimit":700,"labelOffset":16,"symbolType":"stroke","symbolSize":1369,"symbolStrokeWidth":3.2,"clipHeight":16,"rowPadding":7.7,"padding":7,"strokeColor":"#333333","cornerRadius":3,"fillColor":"white"}},
"strokeDash":{"datum":"\u00a0","type":"nominal","scale":{"domain":["\u00a0"],"range":[[10000,1]]},
"legend":{"title":["Tag: 2026-08-07","Letzter Wert: 2026-08-07 23:54","kWh Start:\u00a0\u00a017352.0","kWh Ende:\u00a0\u00a0\u00a017352.0","kWh Δ:\u00a0\u00a0\u00a0\u00a0\u00a0\u00a00.0","Ø kWh/Tag:\u00a0\u00a010.0 (letzte 48 h)","Flow Temp:\u00a0\u00a055.3 °C","Return T:\u00a0\u00a0\u00a058.6 °C","Watertank:\u00a0\u00a058.0 °C","Power:\u00a0\u00a0\u00a0\u00a0\u00a0\u00a00 W","EByte DO:\u00a0\u00a0\u00a00000","WP2 Verdicht.: 0 Hz"],"orient":"none","legendX":1197,"legendY":-9,"titleFontSize":16.5,"titleFontWeight":"normal","titleColor":"black","titleLineHeight":17.55,"titleLimit":600,"titlePadding":10,"labelFontSize":2,"symbolSize":1,"symbolOpacity":0,"padding":10,"strokeColor":"#222222","fillColor":"white","cornerRadius":0}}
}
},
{"data":{"name":"gas"},"mark":{"type":"line","strokeWidth":1.8,"strokeJoin":"round"},"encoding":{"color":{"datum":"Gaskessel ×10 (°C, ntc-Kennlinie ±1.7 K, n=5)","type":"nominal"}}},
{"data":{"name":"ai2"},"mark":{"type":"line","strokeWidth":1.8,"strokeJoin":"round"},"encoding":{"color":{"datum":"ai2 × 2\u00a0\u00a0\u00a0\u00a0(Boiler-Ausgang roh)","type":"nominal"}}},
{"data":{"name":"flow"},"mark":{"type":"line","strokeWidth":1.5,"strokeJoin":"round"},"encoding":{"color":{"datum":"Flow Temp\u00a0\u00a0(Vorlauf °C)","type":"nominal"}}},
{"data":{"name":"vol"},"mark":{"type":"line","strokeWidth":1.4,"strokeJoin":"round"},"encoding":{"color":{"datum":"Volflow\u00a0\u00a0\u00a0\u00a0(Durchfluss /10 m³/h)","type":"nominal"}}},
{"data":{"name":"power"},"mark":{"type":"line","strokeWidth":2.6,"strokeJoin":"round"},"encoding":{"color":{"datum":"Power /10\u00a0\u00a0(Wärmeleistung W)","type":"nominal"}}},
{"data":{"name":"tank"},"mark":{"type":"line","strokeWidth":1.8,"strokeJoin":"round"},"encoding":{"color":{"datum":"Watertank ×10 (Speicher °C)","type":"nominal"}}},
{"data":{"name":"dps"},"mark":{"type":"line","strokeWidth":1.6,"strokeJoin":"round"},"encoding":{"color":{"datum":"dps_103 ×10 (Außentemp °C)","type":"nominal"}}}
]
}
